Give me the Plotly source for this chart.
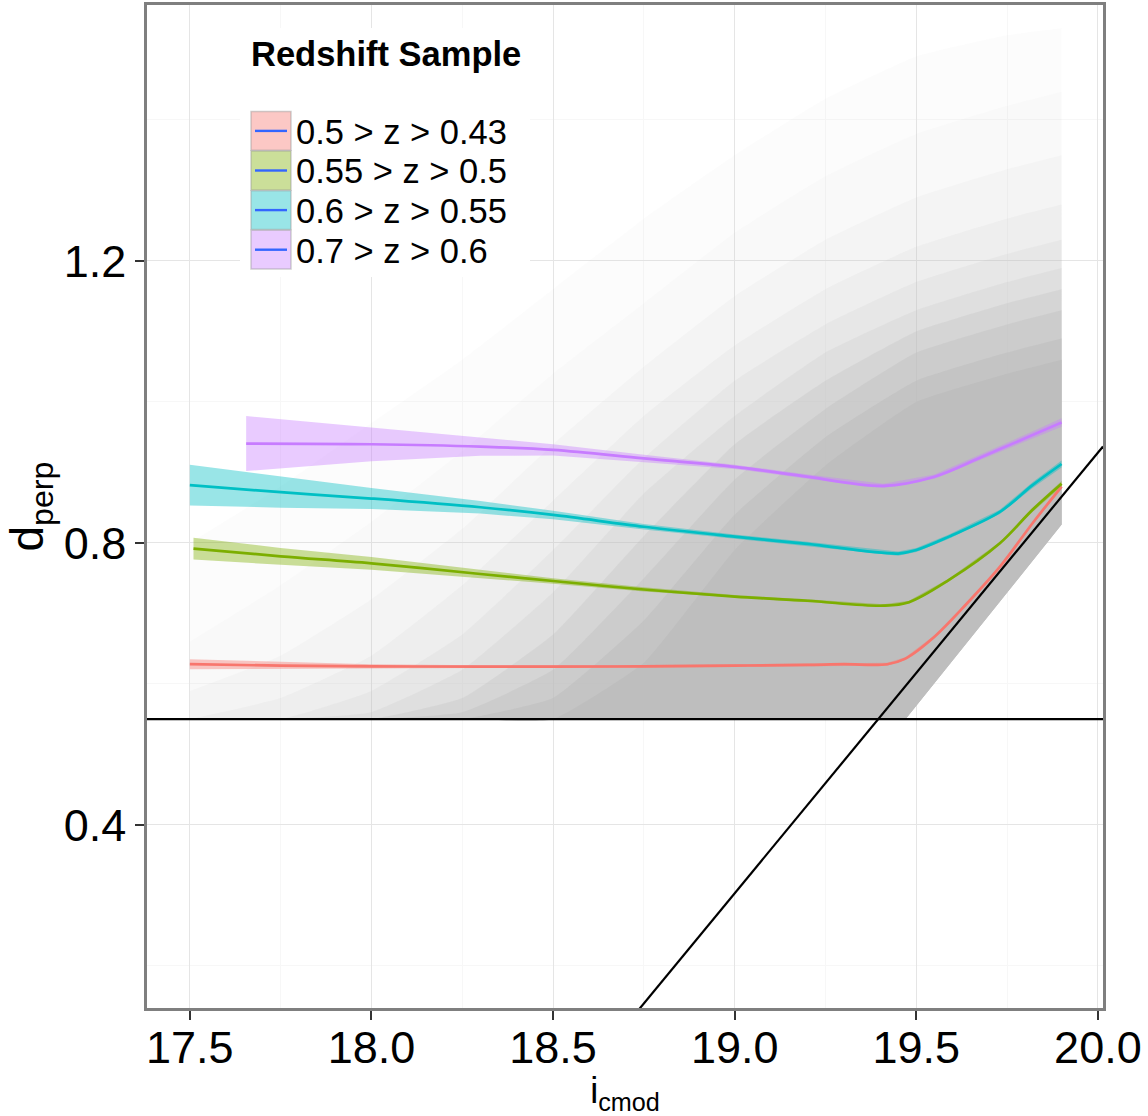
import plotly.graph_objects as go

# ---------------- data ----------------
# grey galaxy cloud: upper envelope of successive density levels (outer -> inner)
cloud_x = [17.5, 17.75, 18.0, 18.25, 18.5, 18.75, 19.0, 19.25, 19.5, 19.75, 19.9]
cloud_level_tops = [
    [0.80, 0.88, 0.97, 1.06, 1.16, 1.26, 1.35, 1.43, 1.49, 1.52, 1.53],
    [0.66, 0.74, 0.83, 0.93, 1.04, 1.14, 1.24, 1.32, 1.38, 1.42, 1.44],
    [0.59, 0.64, 0.72, 0.82, 0.94, 1.05, 1.15, 1.23, 1.29, 1.33, 1.35],
    [0.55, 0.58, 0.64, 0.74, 0.86, 0.98, 1.08, 1.16, 1.22, 1.26, 1.28],
    [0.55, 0.55, 0.59, 0.67, 0.79, 0.92, 1.03, 1.11, 1.17, 1.21, 1.23],
    [0.55, 0.55, 0.56, 0.62, 0.73, 0.87, 0.98, 1.07, 1.13, 1.17, 1.19],
    [0.55, 0.55, 0.55, 0.58, 0.67, 0.81, 0.94, 1.03, 1.10, 1.14, 1.16],
    [0.55, 0.55, 0.55, 0.56, 0.62, 0.75, 0.89, 0.99, 1.07, 1.11, 1.13],
    [0.55, 0.55, 0.55, 0.55, 0.58, 0.69, 0.84, 0.95, 1.03, 1.07, 1.09],
    [0.55, 0.55, 0.55, 0.55, 0.55, 0.63, 0.79, 0.91, 1.00, 1.04, 1.06],
]
cloud_coverage = [0.04, 0.09, 0.16, 0.25, 0.36, 0.48, 0.62, 0.76, 0.90, 1.0]
cloud_bottom_x = [17.5, 19.47, 19.9]
cloud_bottom_y = [0.55, 0.55, 0.826]

# selection cuts
dperp_cut = 0.55
diag_slope = 0.625
diag_x_at_cut = 19.395

# smoothed trends per redshift sample
series_names = ["0.5 > z > 0.43", "0.55 > z > 0.5", "0.6 > z > 0.55", "0.7 > z > 0.6"]
series_colors = ["#F8766D", "#7CAE00", "#00BFC4", "#C77CFF"]

red_x = [17.50, 17.75, 18.0, 18.3, 18.5, 18.75, 19.0, 19.2, 19.3, 19.42, 19.47, 19.55, 19.64, 19.73, 19.82, 19.90]
red_y = [0.628, 0.626, 0.625, 0.6246, 0.6245, 0.625, 0.626, 0.627, 0.628, 0.628, 0.636, 0.667, 0.7145, 0.766, 0.828, 0.880]
red_se = [0.007, 0.005, 0.003, 0.002, 0.002, 0.002, 0.002, 0.002, 0.002, 0.002, 0.002, 0.002, 0.002, 0.002, 0.002, 0.003]

green_x = [17.51, 17.75, 18.0, 18.3, 18.5, 18.75, 19.0, 19.2, 19.41, 19.48, 19.59, 19.73, 19.82, 19.90]
green_y = [0.792, 0.781, 0.771, 0.756, 0.746, 0.734, 0.724, 0.718, 0.711, 0.716, 0.7475, 0.7995, 0.847, 0.884]
green_se = [0.0155, 0.012, 0.009, 0.006, 0.004, 0.003, 0.002, 0.002, 0.002, 0.002, 0.002, 0.002, 0.003, 0.004]

cyan_x = [17.50, 17.75, 18.0, 18.3, 18.5, 18.75, 19.0, 19.2, 19.45, 19.50, 19.59, 19.73, 19.82, 19.90]
cyan_y = [0.882, 0.872, 0.863, 0.8506, 0.8397, 0.823, 0.809, 0.7986, 0.785, 0.790, 0.809, 0.844, 0.882, 0.912]
cyan_se = [0.029, 0.022, 0.015, 0.009, 0.006, 0.004, 0.003, 0.003, 0.003, 0.003, 0.003, 0.003, 0.004, 0.005]

purple_x = [17.655, 18.0, 18.3, 18.5, 18.75, 19.0, 19.18, 19.41, 19.55, 19.68, 19.82, 19.90]
purple_y = [0.941, 0.940, 0.9366, 0.932, 0.920, 0.908, 0.8955, 0.881, 0.894, 0.922, 0.953, 0.9707]
purple_se = [0.039, 0.024, 0.013, 0.008, 0.005, 0.003, 0.003, 0.003, 0.003, 0.004, 0.005, 0.006]

x_ticks = [17.5, 18.0, 18.5, 19.0, 19.5, 20.0]
x_ticklabels = ["17.5", "18.0", "18.5", "19.0", "19.5", "20.0"]
y_ticks = [0.4, 0.8, 1.2]
y_ticklabels = ["0.4", "0.8", "1.2"]
x_range = [17.382, 20.014]
y_range = [0.1404, 1.563]

# ---------------- figure ----------------
W, H = 1148, 1116
ML, MR, MT, MB = 147, 45, 5, 108
PW, PH = W - ML - MR, H - MT - MB


def hex_rgb(h):
    h = h.lstrip("#")
    return tuple(int(h[i:i + 2], 16) for i in (0, 2, 4))


def rgba(h, a):
    r, g, b = hex_rgb(h)
    return f"rgba({r},{g},{b},{a})"


def tint(h, a):
    r, g, b = hex_rgb(h)
    return "rgb({},{},{})".format(*[round(255 - a * (255 - c)) for c in (r, g, b)])


fig = go.Figure()

# density cloud (nested translucent levels)
prev = 0.0
for tops, cov in zip(cloud_level_tops, cloud_coverage):
    a = 1.0 if cov >= 1.0 else 1 - (1 - cov) / (1 - prev)
    prev = cov
    fig.add_trace(go.Scatter(x=cloud_bottom_x, y=cloud_bottom_y, mode="lines",
                             line=dict(width=0), hoverinfo="skip", showlegend=False))
    fig.add_trace(go.Scatter(x=cloud_x, y=tops, mode="lines", fill="tonexty",
                             line=dict(width=0, shape="spline", smoothing=0.4),
                             fillcolor=f"rgba(190,190,190,{a:.4f})",
                             hoverinfo="skip", showlegend=False))

# cut lines
fig.add_trace(go.Scatter(x=x_range, y=[dperp_cut, dperp_cut], mode="lines",
                         line=dict(color="black", width=2.2), hoverinfo="skip", showlegend=False))
fig.add_trace(go.Scatter(x=x_range,
                         y=[dperp_cut + diag_slope * (xv - diag_x_at_cut) for xv in x_range],
                         mode="lines", line=dict(color="black", width=2.2),
                         hoverinfo="skip", showlegend=False))

series = [(red_x, red_y, red_se), (green_x, green_y, green_se),
          (cyan_x, cyan_y, cyan_se), (purple_x, purple_y, purple_se)]

for (xs, ys, se), col, name in zip(series, series_colors, series_names):
    up = [y + s for y, s in zip(ys, se)]
    lo = [y - s for y, s in zip(ys, se)]
    fig.add_trace(go.Scatter(x=xs + xs[::-1], y=up + lo[::-1], fill="toself", mode="lines",
                             line=dict(width=0),
                             fillcolor=rgba(col, 0.4),
                             hoverinfo="skip", showlegend=False))
for (xs, ys, se), col, name in zip(series, series_colors, series_names):
    fig.add_trace(go.Scatter(x=xs, y=ys, mode="lines", name=name,
                             line=dict(color=col, width=2.7, shape="spline", smoothing=1.0),
                             showlegend=False))

# ---------------- custom legend (ggplot style) ----------------
def pxx(p):
    return (p - ML) / PW


def pxy(p):
    return (H - MB - p) / PH


shapes = [dict(type="rect", xref="paper", yref="paper", layer="above",
               x0=pxx(240), x1=pxx(530), y0=pxy(277), y1=pxy(28),
               fillcolor="white", line=dict(width=0))]
annotations = [dict(text="<b>Redshift Sample</b>", xref="paper", yref="paper",
                    x=pxx(249), y=pxy(54), xanchor="left", yanchor="middle",
                    showarrow=False, font=dict(size=34.5, color="black"))]
key_top = 111.5
key_h = 39.6
for i, (name, col) in enumerate(zip(series_names, series_colors)):
    t = key_top + i * key_h
    b = t + key_h - 0.8
    shapes.append(dict(type="rect", xref="paper", yref="paper", layer="above",
                       x0=pxx(251), x1=pxx(291), y0=pxy(b), y1=pxy(t),
                       fillcolor=tint(col, 0.4),
                       line=dict(color="rgba(150,150,150,0.45)", width=1.5)))
    cy = (t + b) / 2
    shapes.append(dict(type="line", xref="paper", yref="paper", layer="above",
                       x0=pxx(255), x1=pxx(287), y0=pxy(cy), y1=pxy(cy),
                       line=dict(color="#3366FF", width=2.4)))
    annotations.append(dict(text=name, xref="paper", yref="paper",
                            x=pxx(294), y=pxy(cy + 1), xanchor="left", yanchor="middle",
                            showarrow=False, font=dict(size=34.5, color="black")))

fig.update_layout(
    width=W, height=H,
    margin=dict(l=ML, r=MR, t=MT, b=MB, autoexpand=False),
    plot_bgcolor="white", paper_bgcolor="white",
    font=dict(family="Liberation Sans, Arial, sans-serif", color="black"),
    showlegend=False,
    shapes=shapes,
    annotations=annotations,
    xaxis=dict(range=x_range, tickmode="array", tickvals=x_ticks, ticktext=x_ticklabels,
               tickfont=dict(size=45, color="black"), ticklabelstandoff=-11,
               showgrid=True, gridcolor="#E5E5E5", gridwidth=1.3, zeroline=False,
               showline=True, mirror=True, linecolor="#7F7F7F", linewidth=2.5,
               ticks="outside", ticklen=9, tickwidth=2, tickcolor="#333333",
               minor=dict(dtick=0.25, tick0=17.5, showgrid=True, gridcolor="#F7F7F7",
                          gridwidth=1.2, ticks=""),
               automargin=False,
               title=dict(text="i<sub>cmod</sub>", font=dict(size=36, color="black"), standoff=9)),
    yaxis=dict(range=y_range, tickmode="array", tickvals=y_ticks, ticktext=y_ticklabels,
               tickfont=dict(size=45, color="black"),
               showgrid=True, gridcolor="#E5E5E5", gridwidth=1.3, zeroline=False,
               showline=True, mirror=True, linecolor="#7F7F7F", linewidth=2.5,
               ticks="outside", ticklen=9, tickwidth=2, tickcolor="#333333",
               minor=dict(dtick=0.2, tick0=0.0, showgrid=True, gridcolor="#F7F7F7",
                          gridwidth=1.2, ticks=""),
               automargin=False,
               title=dict(text="d<sub>perp</sub>", font=dict(size=46, color="black"), standoff=6)),
)

fig.write_html("out.html", post_script="document.body.style.margin='0';",
               config={"displayModeBar": False})
